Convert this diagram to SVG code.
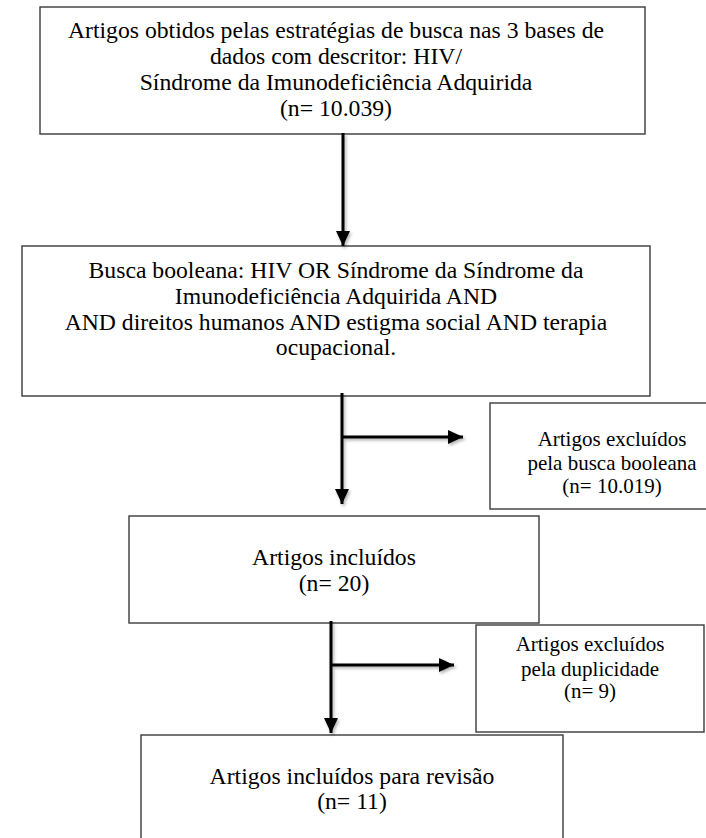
<svg xmlns="http://www.w3.org/2000/svg" width="706" height="838" viewBox="0 0 706 838">
<style>
.box{fill:#fff;stroke:#3a3a3a;stroke-width:1.4}
text{font-family:'Liberation Serif',serif;fill:#000;text-anchor:middle}
.t{font-size:23.7px}
.s{font-size:21px}
.c{stroke:#000;stroke-width:3;fill:none;marker-end:url(#ah)}
</style>
<defs>
<marker id="ah" markerUnits="userSpaceOnUse" markerWidth="16" markerHeight="16" viewBox="0 0 16 16" refX="15" refY="8" orient="auto">
<path d="M0,1 L15,8 L0,15 Z" fill="#000"/>
</marker>
<filter id="sh" x="-20%" y="-20%" width="140%" height="140%">
<feDropShadow dx="1.5" dy="2" stdDeviation="1.5" flood-color="#000" flood-opacity="0.3"/>
</filter>
</defs>
<g id="n1">
<rect class="box" x="40" y="7" width="605" height="127"/>
<text class="t" x="336" y="38">Artigos obtidos pelas estratégias de busca nas 3 bases de</text>
<text class="t" x="336" y="64">dados com descritor: HIV/</text>
<text class="t" x="336" y="90">Síndrome da Imunodeficiência Adquirida</text>
<text class="t" x="336" y="116">(n= 10.039)</text>
</g>
<g id="n2">
<rect class="box" x="22" y="246" width="628" height="150"/>
<text class="t" x="336" y="278">Busca booleana: HIV OR Síndrome da Síndrome da</text>
<text class="t" x="336" y="304">Imunodeficiência Adquirida AND</text>
<text class="t" x="336" y="330">AND direitos humanos AND estigma social AND terapia</text>
<text class="t" x="336" y="355">ocupacional.</text>
</g>
<g id="n3">
<rect class="box" x="490" y="403" width="250" height="106"/>
<text class="s" x="612" y="446">Artigos excluídos</text>
<text class="s" x="612" y="470">pela busca booleana</text>
<text class="s" x="612" y="493">(n= 10.019)</text>
</g>
<g id="n4">
<rect class="box" x="129" y="516" width="410" height="107"/>
<text class="t" x="334" y="565">Artigos incluídos</text>
<text class="t" x="334" y="591">(n= 20)</text>
</g>
<g id="n5">
<rect class="box" x="476" y="625" width="228" height="107"/>
<text class="s" x="590" y="651">Artigos excluídos</text>
<text class="s" x="590" y="676">pela duplicidade</text>
<text class="s" x="590" y="698">(n= 9)</text>
</g>
<g id="n6">
<rect class="box" x="141" y="735" width="422" height="110"/>
<text class="t" x="352" y="784">Artigos incluídos para revisão</text>
<text class="t" x="352" y="809">(n= 11)</text>
</g>
<g id="connectors" filter="url(#sh)">
<line class="c" x1="343" y1="133" x2="343" y2="246"/>
<line class="c" x1="342" y1="393" x2="342" y2="504"/>
<line class="c" x1="342" y1="437" x2="463" y2="437"/>
<line class="c" x1="331" y1="621" x2="331" y2="733"/>
<line class="c" x1="331" y1="665" x2="454" y2="665"/>
</g>
</svg>
